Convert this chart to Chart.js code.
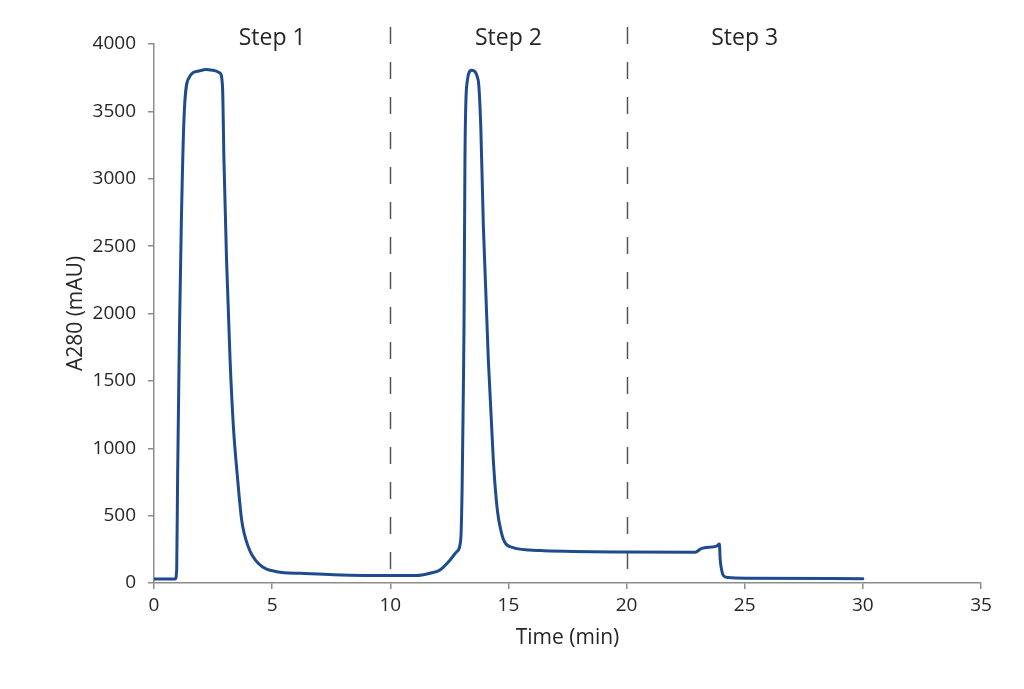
<!DOCTYPE html>
<html>
<head>
<meta charset="utf-8">
<script src="https://cdn.jsdelivr.net/npm/chart.js@4/dist/chart.umd.min.js"></script>
<style>
  html, body { margin: 0; padding: 0; background: #ffffff; }
  #wrap { width: 1024px; height: 689px; }
</style>
</head>
<body>
<div id="wrap"><canvas id="c" width="1024" height="689"></canvas></div>
<script>
// ---- Data ----
const timeMin = [
  0, 0.9, 0.96, 1.0, 1.08, 1.16, 1.27, 1.45, 1.9, 2.2, 2.5, 2.79, 2.9, 2.96, 3.07, 3.22, 3.36, 3.53, 3.71, 3.99,
  4.41, 5.19, 6.2, 7.6, 10, 11.1, 11.68, 12.1, 12.53, 12.81, 12.98, 13.04, 13.09, 13.12, 13.16, 13.23, 13.44,
  13.72, 13.83, 13.94, 14.15, 14.36, 14.53, 14.71, 14.85, 15.2, 15.91, 16.48, 20, 22.9, 23.18, 23.81, 23.93,
  23.96, 24.01, 24.1, 24.3, 25.2, 30
];
const a280 = [
  30, 30, 100, 800, 1900, 2700, 3450, 3740, 3800, 3810, 3805, 3785, 3683, 3140, 2400, 1655, 1160, 790, 467, 269,
  146, 84, 72, 62, 55, 55, 72, 97, 171, 232, 319, 700, 1400, 1902, 3139, 3683, 3806,
  3732, 3386, 2644, 1655, 913, 542, 369, 300, 262, 245, 240, 230, 228, 257, 274, 289,
  180, 110, 55, 40, 35, 32
];
const stepNames = ['Step 1', 'Step 2', 'Step 3'];
const stepCenters = [5, 15, 25];
const stepBoundaries = [10, 20];
const xTicks = [0, 5, 10, 15, 20, 25, 30, 35];
const yTicks = [0, 500, 1000, 1500, 2000, 2500, 3000, 3500, 4000];

const points = timeMin.map((t, i) => ({ x: t, y: a280[i] }));

const FONT = "'Open Sans', 'DejaVu Sans', sans-serif";
const TEXT = '#262626';
const AXIS = '#8c8c8c';

const stepPlugin = {
  id: 'steps',
  beforeDatasetsDraw(chart) {
    const { ctx, chartArea, scales } = chart;
    ctx.save();
    ctx.strokeStyle = '#555555';
    ctx.lineWidth = 1.5;
    ctx.setLineDash([17, 18]);
    stepBoundaries.forEach(v => {
      const px = Math.round(scales.x.getPixelForValue(v)) + 0.5;
      ctx.beginPath();
      ctx.moveTo(px, chartArea.top - 17);
      ctx.lineTo(px, chartArea.bottom);
      ctx.stroke();
    });
    ctx.restore();
  },
  afterDatasetsDraw(chart) {
    const { ctx, chartArea, scales } = chart;
    ctx.save();
    ctx.fillStyle = TEXT;
    ctx.font = "23px " + FONT;
    ctx.textAlign = 'center';
    ctx.textBaseline = 'middle';
    stepNames.forEach((s, i) => {
      ctx.fillText(s, scales.x.getPixelForValue(stepCenters[i]), chartArea.top - 6);
    });
    ctx.restore();
  }
};

new Chart(document.getElementById('c'), {
  type: 'scatter',
  data: {
    datasets: [{
      data: points,
      showLine: true,
      borderColor: '#1f4b8e',
      backgroundColor: '#1f4b8e',
      borderWidth: 3,
      pointRadius: 0,
      cubicInterpolationMode: 'monotone',
      borderJoinStyle: 'round',
      borderCapStyle: 'round'
    }]
  },
  options: {
    responsive: false,
    animation: false,
    devicePixelRatio: 1,
    layout: { padding: { left: 0, right: 43, top: 44, bottom: 0 } },
    plugins: { legend: { display: false }, tooltip: { enabled: false } },
    scales: {
      x: {
        type: 'linear',
        min: 0, max: 35,
        afterBuildTicks: s => { s.ticks = xTicks.map(v => ({ value: v })); },
        afterFit: s => { s.height = 106; },
        grid: { drawOnChartArea: false, drawTicks: true, tickLength: 6, color: AXIS, lineWidth: 1.5 },
        border: { display: true, color: AXIS, width: 1.5 },
        ticks: { color: TEXT, font: { family: FONT, size: 19 }, padding: 5, maxRotation: 0, callback: v => String(v) },
        title: { display: true, text: 'Time (min)', color: TEXT, font: { family: FONT, size: 21 }, padding: { top: 0, bottom: 38 } }
      },
      y: {
        min: 0, max: 4000,
        afterBuildTicks: s => { s.ticks = yTicks.map(v => ({ value: v })); },
        afterFit: s => { s.width = 154; },
        grid: { drawOnChartArea: false, drawTicks: true, tickLength: 6, color: AXIS, lineWidth: 1.5 },
        border: { display: true, color: AXIS, width: 1.5 },
        ticks: { color: TEXT, font: { family: FONT, size: 19 }, padding: 12, callback: v => String(v) },
        title: { display: true, text: 'A280 (mAU)', color: TEXT, font: { family: FONT, size: 21 }, padding: { top: 63, bottom: 0 } }
      }
    }
  },
  plugins: [stepPlugin]
});
</script>
</body>
</html>
